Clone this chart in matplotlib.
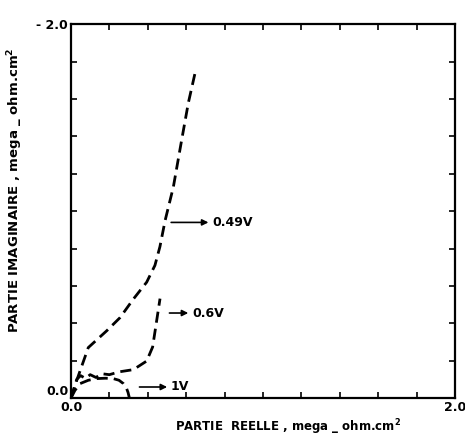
import numpy as np
import matplotlib
matplotlib.use('Agg')
import matplotlib.pyplot as plt

# datos (mega ohm.cm2), parte imaginaria negativa
x_049 = [0.0, 0.03, 0.09, 0.186, 0.255, 0.325, 0.394, 0.437, 0.463, 0.49, 0.533, 0.576, 0.611, 0.646]
y_049 = [0.0, -0.095, -0.27, -0.36, -0.43, -0.53, -0.62, -0.71, -0.81, -0.95, -1.13, -1.38, -1.58, -1.74]

x_06 = [0.0, 0.03, 0.05, 0.075, 0.1, 0.13, 0.16, 0.2, 0.25, 0.325, 0.394, 0.425, 0.441, 0.4635]
y_06 = [0.0, -0.1, -0.12, -0.105, -0.125, -0.11, -0.13, -0.125, -0.14, -0.152, -0.198, -0.273, -0.38, -0.532]

x_1 = [0.0, 0.02, 0.047, 0.09, 0.134, 0.18, 0.22, 0.25, 0.273, 0.288, 0.297, 0.304]
y_1 = [0.0, -0.04, -0.077, -0.095, -0.104, -0.106, -0.104, -0.095, -0.077, -0.055, -0.03, 0.0]

etiquetas = ['0.49V', '0.6V', '1V']
pos_flecha = [(0.507, 0.73, -0.94), (0.498, 0.625, -0.455), (0.342, 0.515, -0.059)]

xticks = np.arange(0, 2.01, 0.2)
yticks = np.arange(0, -2.01, -0.2)

fig = plt.figure(figsize=(4.65, 4.37), dpi=100)
ax = fig.add_axes([0.1527, 0.0892, 0.826, 0.855])

estilo = dict(color='black', lw=2.0, dashes=(4, 2.2))
ax.plot(x_049, y_049, **estilo)
ax.plot(x_06, y_06, **estilo)
ax.plot(x_1, y_1, **estilo)

# flechas con las tensiones
for et, (x0, x1, y) in zip(etiquetas, pos_flecha):
    ax.annotate('', xy=(x1, y), xytext=(x0, y),
                arrowprops=dict(arrowstyle='-|>', color='black', lw=1.2, mutation_scale=9))
    ax.text(x1 + 0.005, y, et, ha='left', va='center', fontsize=9, fontweight='bold')

ax.set_xlim(0, 2.0)
ax.set_ylim(0, -2.0)
ax.set_xticks(xticks)
ax.set_yticks(yticks)
ax.set_xticklabels(['0.0'] + [''] * 9 + ['2.0'])
ax.set_yticklabels(['0.0'] + [''] * 9 + ['- 2.0'])
ax.tick_params(direction='in', length=4, width=1.2, top=True, right=True, labelsize=9, pad=2)
for lab in ax.get_xticklabels() + ax.get_yticklabels():
    lab.set_fontweight('bold')
# el 0.0 del eje y un poco mas arriba para no pisar el del eje x
ax.get_yticklabels()[0].set_va('bottom')
for s in ax.spines.values():
    s.set_linewidth(1.6)

ax.set_xlabel('PARTIE  REELLE , mega _ ohm.cm$^\\mathbf{2}$', fontsize=8.5, fontweight='bold')
ax.xaxis.set_label_coords(0.565, -0.077)
ax.set_ylabel('PARTIE IMAGINAIRE , mega _ ohm.cm$^\\mathbf{2}$', fontsize=9.5, fontweight='bold')
ax.yaxis.set_label_coords(-0.146, 0.555)
ax.xaxis.label.set_va('center')
ax.yaxis.label.set_va('center')

fig.savefig('out.png', dpi=100)
